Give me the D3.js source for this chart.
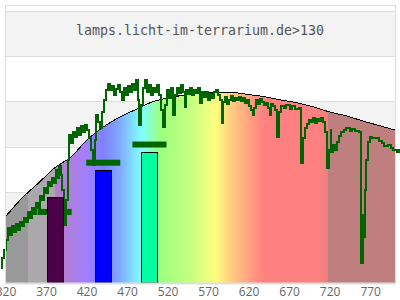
<!DOCTYPE html>
<html>
<head>
<meta charset="utf-8">
<script src="https://cdn.jsdelivr.net/npm/d3@7"></script>
<style>
  body { margin: 0; background: #fff; }
  svg { display: block; }
</style>
</head>
<body>
<script>
// ----- data -----
const title = "lamps.licht-im-terrarium.de>130";
const tickNm = [320, 370, 420, 470, 520, 570, 620, 670, 720, 770];
const gridVals = [20, 40, 60, 80];
const bandRanges = [[20, 40], [60, 80]];

// reference envelope (nm, relative value)
const envNm = [320, 340, 360, 380, 400, 420, 440, 460, 480, 500, 520, 540, 560, 580, 600, 620, 640, 660, 680, 700, 720, 740, 760, 780, 800];
const envVal = [29.5, 37.5, 44, 50.7, 55.5, 63, 68.7, 73, 76.4, 79.7, 81.5, 82.8, 83.7, 84.1, 83.9, 83, 82, 80.6, 79.3, 77.5, 75.3, 73.6, 71.4, 69.4, 67.4];

// background spectrum colours (nm, colour)
const spectrumStops = [
  [320, "#999999"], [347, "#999999"], [347, "#aca7ac"], [380, "#aca7ac"],
  [380, "#b27fc8"], [395, "#b27fd8"], [420, "#a27fff"], [440, "#8080ff"],
  [460, "#80a8ff"], [478, "#80e4ff"], [488, "#80ffff"], [510, "#9cff80"],
  [550, "#c8ff80"], [578, "#ffff80"], [600, "#ffc880"], [625, "#ff9880"],
  [640, "#ff8080"], [705, "#ff8080"], [717, "#ec8080"], [717, "#bf7f7f"],
  [800, "#bf7f7f"]
];

// lamp bars: [from nm, to nm, value, colour]
const bars = [
  [370, 390, 38.0, "#4b0049"],
  [430, 450, 49.8, "#0000ff"],
  [487, 507, 57.7, "#00ffa0"]
];
// markers: [centre nm, value]
const markers = [[380, 31.3], [440, 53], [497, 61]];
const markerHalfNm = 21;

// measured spectrum (nm, value)
const spectrum = [
  [314, 6.6], [316, 11.0], [319, 14.5], [321, 18.9], [324, 24.2], [326, 21.1], [329, 25.1], [331, 22.5],
  [334, 26.0], [336, 23.3], [339, 26.9], [341, 25.1], [343, 28.6], [346, 26.9], [348, 31.3], [351, 28.6],
  [353, 33.0], [356, 30.4], [358, 35.2], [361, 33.0], [363, 38.3], [366, 36.6], [368, 41.8], [371, 39.6],
  [373, 44.5], [376, 42.7], [378, 46.3], [380, 44.1], [383, 49.8], [385, 46.3], [387, 51.5], [389, 47.6],
  [390, 41.0], [393, 25.5], [395, 36.6], [397, 54.2], [399, 65.2], [401, 61.7], [404, 66.5], [406, 64.3],
  [409, 68.3], [411, 65.2], [414, 69.2], [416, 66.5], [419, 69.6], [421, 67.4], [424, 63.9], [426, 58.6],
  [429, 52.0], [431, 63.0], [432, 74.0], [435, 70.9], [437, 68.3], [440, 75.3], [442, 80.6], [445, 85.0],
  [447, 87.7], [450, 85.0], [452, 86.8], [455, 82.8], [457, 85.5], [459, 87.2], [462, 84.1], [464, 80.6],
  [467, 85.9], [469, 82.8], [472, 86.8], [474, 84.1], [477, 87.7], [479, 85.0], [482, 89.4], [484, 80.6],
  [485, 69.6], [488, 78.4], [490, 85.9], [493, 89.4], [495, 84.1], [498, 87.2], [500, 82.8], [503, 85.9],
  [505, 84.1], [508, 87.2], [510, 82.8], [513, 76.2], [515, 68.7], [517, 78.4], [520, 85.0], [522, 81.5],
  [525, 85.9], [527, 74.0], [530, 82.8], [532, 85.9], [535, 83.7], [537, 87.2], [540, 84.1], [541, 77.5],
  [543, 85.0], [546, 83.3], [548, 85.9], [551, 82.8], [553, 85.0], [556, 83.7], [558, 85.9], [561, 79.3],
  [563, 84.1], [566, 81.9], [568, 84.1], [571, 80.6], [573, 83.3], [575, 81.5], [578, 84.1], [580, 85.0],
  [583, 82.8], [585, 80.6], [587, 70.5], [589, 79.7], [591, 81.9], [594, 78.8], [596, 80.6], [599, 82.4],
  [601, 80.2], [604, 81.5], [606, 80.6], [609, 81.9], [611, 80.2], [614, 81.5], [616, 79.3], [619, 80.6],
  [621, 78.0], [624, 76.2], [625, 74.0], [627, 77.1], [630, 80.6], [632, 78.8], [635, 81.1], [637, 79.7],
  [640, 78.4], [642, 79.3], [645, 77.1], [646, 74.0], [648, 78.8], [651, 78.0], [653, 76.2], [656, 64.3],
  [658, 75.3], [661, 78.0], [664, 77.1], [668, 78.4], [672, 76.6], [675, 78.0], [679, 76.6], [683, 77.1],
  [684, 69.6], [685, 52.9], [688, 63.9], [690, 68.3], [693, 70.0], [695, 71.8], [698, 70.9], [700, 72.7],
  [703, 70.5], [705, 72.2], [707, 71.4], [710, 72.7], [712, 70.9], [715, 66.5], [717, 50.7], [720, 58.6],
  [721, 67.4], [722, 57.7], [725, 60.8], [727, 58.6], [730, 62.1], [732, 64.8], [735, 66.5], [738, 67.4],
  [742, 68.3], [746, 67.0], [749, 67.8], [753, 67.0], [757, 66.5], [758, 39.6], [759, 8.8], [761, 30.0],
  [762, 20.3], [764, 41.0], [765, 54.2], [768, 62.1], [770, 64.3], [774, 63.9], [778, 63.9], [782, 62.6],
  [785, 61.7], [789, 60.3], [793, 60.8], [796, 59.5], [800, 58.6], [804, 57.7], [806, 58.6]
];

// ----- layout -----
const W = 400, H = 300;
const plot = { left: 6, right: 395, top: 56, bottom: 283 };

const x = d3.scaleLinear().domain([320, 800]).range([plot.left, plot.right]);
const y = d3.scaleLinear().domain([0, 100]).range([plot.bottom, plot.top]);

const svg = d3.select("body").append("svg").attr("width", W).attr("height", H);

// card + header
svg.append("rect")
  .attr("x", 5.5).attr("y", 5.5).attr("width", 390).attr("height", plot.bottom - 5)
  .attr("fill", "#fff").attr("stroke", "#ddd");
svg.append("rect")
  .attr("x", 5.5).attr("y", 11.5).attr("width", 390).attr("height", 45)
  .attr("fill", "#f3f3f3").attr("stroke", "#ddd");
svg.append("text")
  .attr("x", 200).attr("y", 35)
  .attr("text-anchor", "middle")
  .style("font-family", "'DejaVu Sans Mono', monospace")
  .style("font-size", "13.3px")
  .style("fill", "#555")
  .text(title);

// alternating bands + gridlines
svg.append("g").selectAll("rect")
  .data(bandRanges)
  .enter().append("rect")
  .attr("x", plot.left).attr("width", plot.right - plot.left)
  .attr("y", d => y(d[1])).attr("height", d => y(d[0]) - y(d[1]))
  .attr("fill", "#f3f3f3");
svg.append("g").selectAll("line")
  .data(gridVals)
  .enter().append("line")
  .attr("x1", plot.left).attr("x2", plot.right)
  .attr("y1", d => Math.round(y(d)) + 0.5).attr("y2", d => Math.round(y(d)) + 0.5)
  .attr("stroke", "#ddd");

// spectrum gradient
const defs = svg.append("defs");
const grad = defs.append("linearGradient")
  .attr("id", "spec")
  .attr("gradientUnits", "userSpaceOnUse")
  .attr("x1", x(320)).attr("x2", x(800)).attr("y1", 0).attr("y2", 0);
grad.selectAll("stop")
  .data(spectrumStops)
  .enter().append("stop")
  .attr("offset", d => (d[0] - 320) / (800 - 320))
  .attr("stop-color", d => d[1]);

const env = envNm.map((n, i) => [n, envVal[i]]);
svg.append("path")
  .datum(env)
  .attr("d", d3.area().x(d => x(d[0])).y0(y(0)).y1(d => y(d[1])).curve(d3.curveMonotoneX))
  .attr("fill", "url(#spec)");
svg.append("path")
  .datum(env)
  .attr("d", d3.line().x(d => x(d[0])).y(d => y(d[1])).curve(d3.curveMonotoneX))
  .attr("fill", "none")
  .attr("stroke", "#000")
  .attr("stroke-width", 1)
  .style("shape-rendering", "crispEdges");

// measured spectrum line
svg.append("path")
  .datum(spectrum)
  .attr("d", d3.line().x(d => x(d[0])).y(d => y(d[1])).curve(d3.curveStep))
  .attr("fill", "none")
  .attr("stroke", "#006400")
  .attr("stroke-width", 2)
  .style("shape-rendering", "crispEdges");

// markers
svg.append("g").selectAll("rect")
  .data(markers)
  .enter().append("rect")
  .attr("x", d => x(d[0] - markerHalfNm))
  .attr("width", d => x(d[0] + markerHalfNm) - x(d[0] - markerHalfNm))
  .attr("y", d => y(d[1]) - 3)
  .attr("height", 6)
  .attr("fill", "#006400");

// bars
svg.append("g").selectAll("rect")
  .data(bars)
  .enter().append("rect")
  .attr("x", d => Math.round(x(d[0])) + 0.5)
  .attr("width", d => Math.round(x(d[1]) - x(d[0])))
  .attr("y", d => Math.round(y(d[2])) + 0.5)
  .attr("height", d => Math.round(y(0) - y(d[2])) - 0.5)
  .attr("fill", d => d[3])
  .attr("stroke", "#000")
  .attr("stroke-width", 1);

// frame
svg.append("line")
  .attr("x1", plot.left - 0.5).attr("x2", plot.left - 0.5)
  .attr("y1", plot.top).attr("y2", plot.bottom + 1)
  .attr("stroke", "#ddd");
svg.append("line")
  .attr("x1", plot.left - 1).attr("x2", plot.right + 1)
  .attr("y1", plot.bottom + 0.5).attr("y2", plot.bottom + 0.5)
  .attr("stroke", "#ddd").attr("stroke-width", 2);

// x labels
svg.append("g").selectAll("text")
  .data(tickNm)
  .enter().append("text")
  .attr("x", d => x(d))
  .attr("y", 296)
  .attr("text-anchor", "middle")
  .style("font-family", "'Open Sans', sans-serif")
  .style("font-size", "12px")
  .style("fill", "#666")
  .text(d => d);
</script>
</body>
</html>
